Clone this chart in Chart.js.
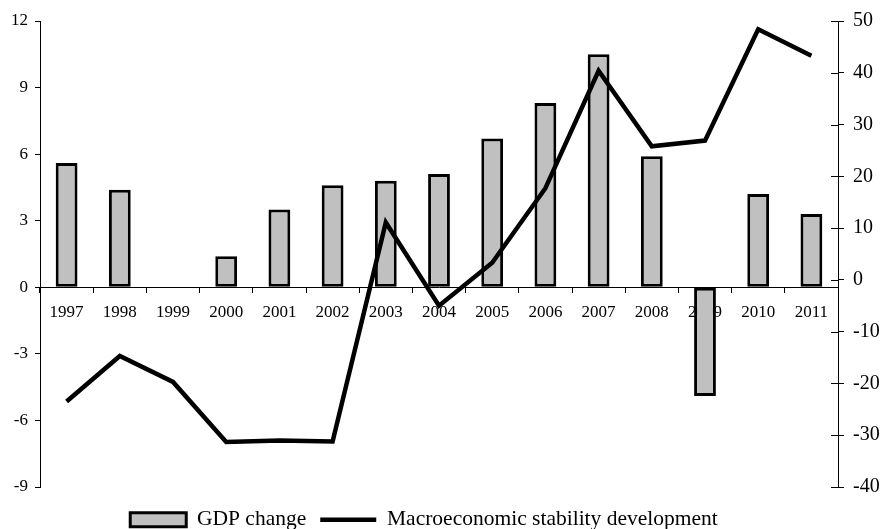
<!DOCTYPE html>
<html>
<head>
<meta charset="utf-8">
<script src="https://cdn.jsdelivr.net/npm/chart.js@4.4.1/dist/chart.umd.min.js"></script>
<style>
  body { margin: 0; background: #fff; }
  #wrap { width: 885px; height: 529px; }
</style>
</head>
<body>
<div id="wrap"><canvas id="comboChart"></canvas></div>
<script>
var years = ['1997', '1998', '1999', '2000', '2001', '2002', '2003', '2004', '2005', '2006', '2007', '2008', '2009', '2010', '2011'];
var gdpChange = [5.6, 4.4, 0, 1.4, 3.5, 4.6, 4.8, 5.1, 6.7, 8.3, 10.5, 5.9, -4.9, 4.2, 3.3];
var stability = [-23.5, -14.7, -19.7, -31.3, -31.0, -31.2, 11.1, -5.0, 3.3, 17.7, 40.4, 25.8, 26.9, 48.4, 43.3];

var leftTicks = [-9, -6, -3, 0, 3, 6, 9, 12];
var rightTicks = [-40, -30, -20, -10, 0, 10, 20, 30, 40, 50];

// right axis ticks cross the axis line, draw the inner half here
var crossTicks = {
    id: 'crossTicks',
    afterLayout: function (chart) {
        // legend in the original sits a bit left of centre and lower
        chart.legend.left -= 37;
        chart.legend.top += 8;
    },
    afterDraw: function (chart) {
        var s = chart.scales.y1;
        var c = chart.ctx;
        c.save();
        c.strokeStyle = '#000';
        c.lineWidth = 1;
        s.ticks.forEach(function (t) {
            var py = Math.round(s.getPixelForValue(t.value)) + 0.5;
            c.beginPath();
            c.moveTo(s.left - 7, py);
            c.lineTo(s.left, py);
            c.stroke();
        });
        c.restore();
    }
};

var ctx = document.getElementById('comboChart').getContext('2d');
var myChart = new Chart(ctx, {
    data: {
        labels: years,
        datasets: [{
            type: 'bar',
            label: 'GDP change',
            data: gdpChange,
            yAxisID: 'y',
            backgroundColor: '#c0c0c0',
            borderColor: '#000',
            borderWidth: 3,
            borderSkipped: false,
            categoryPercentage: 1,
            barPercentage: 0.41,
            pointStyle: 'rect',
            order: 2
        }, {
            type: 'line',
            label: 'Macroeconomic stability development',
            data: stability,
            yAxisID: 'y1',
            borderColor: '#000',
            backgroundColor: '#000',
            borderWidth: 4.5,
            pointRadius: 0,
            tension: 0,
            pointStyle: 'line',
            order: 1
        }]
    },
    options: {
        responsive: true,
        maintainAspectRatio: false,
        animation: false,
        layout: {
            padding: { top: 21, left: 0, right: 0, bottom: 0 }
        },
        plugins: {
            tooltip: { enabled: false },
            legend: {
                position: 'bottom',
                maxHeight: 42,
                labels: {
                    usePointStyle: true,
                    pointStyleWidth: 56,
                    boxHeight: 14,
                    padding: 14,
                    color: '#000',
                    font: { family: '"Liberation Serif", "Times New Roman", serif', size: 21.5 },
                    sort: function (a, b) { return a.datasetIndex - b.datasetIndex; }
                }
            }
        },
        scales: {
            x: {
                position: { y: 0 },
                offset: true,
                grid: { drawOnChartArea: false, offset: true, tickLength: 5, color: '#000' },
                border: { color: '#000', width: 1 },
                ticks: {
                    color: '#000',
                    padding: 10,
                    maxRotation: 0,
                    autoSkip: false,
                    font: { family: '"Liberation Serif", "Times New Roman", serif', size: 17 }
                }
            },
            y: {
                position: 'left',
                min: -9,
                max: 12,
                afterBuildTicks: function (scale) {
                    scale.ticks = leftTicks.map(function (v) { return { value: v }; });
                },
                afterFit: function (scale) { scale.width = 40; },
                grid: { drawOnChartArea: false, tickLength: 5, color: '#000' },
                border: { color: '#000', width: 1 },
                ticks: {
                    color: '#000',
                    padding: 7,
                    font: { family: '"Liberation Serif", "Times New Roman", serif', size: 17 }
                }
            },
            y1: {
                position: 'right',
                min: -40,
                max: 50,
                afterBuildTicks: function (scale) {
                    scale.ticks = rightTicks.map(function (v) { return { value: v }; });
                },
                afterFit: function (scale) { scale.width = 47; },
                grid: { drawOnChartArea: false, tickLength: 6, color: '#000' },
                border: { color: '#000', width: 1 },
                ticks: {
                    color: '#000',
                    padding: 9,
                    font: { family: '"Liberation Serif", "Times New Roman", serif', size: 20 }
                }
            }
        }
    },
    plugins: [crossTicks]
});
</script>
</body>
</html>
